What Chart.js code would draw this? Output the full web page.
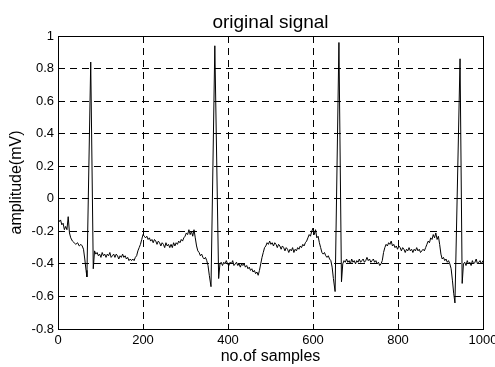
<!DOCTYPE html>
<html>
<head>
<meta charset="utf-8">
<script src="https://cdn.jsdelivr.net/npm/chart.js@4/dist/chart.umd.min.js"></script>
<style>
  html, body { margin: 0; background: #fff; }
</style>
</head>
<body>
<canvas id="chart" width="495" height="367"></canvas>
<script>
// sample number (x) and amplitude in mV (y)
const sampleIdx = [
  0, 3, 6, 9, 12, 15, 18, 21, 24, 27,
  30, 34, 38, 42, 46, 50, 54, 57, 60, 63,
  66, 68, 77, 83, 86, 89, 92, 95, 98, 101,
  104, 107, 110, 113, 116, 119, 122, 125, 128, 131,
  134, 137, 140, 143, 146, 149, 152, 155, 158, 161,
  164, 167, 170, 173, 176, 179, 182, 185, 188, 191,
  194, 197, 200, 203, 206, 209, 212, 215, 218, 221,
  224, 227, 230, 233, 236, 239, 242, 245, 248, 251,
  254, 257, 260, 263, 266, 269, 272, 275, 278, 281,
  284, 287, 290, 293, 296, 299, 302, 305, 308, 311,
  314, 317, 320, 323, 326, 329, 332, 335, 338, 341,
  344, 347, 350, 353, 356, 360, 369, 378, 381, 384,
  387, 390, 393, 396, 399, 402, 405, 408, 411, 414,
  417, 420, 423, 426, 429, 432, 435, 438, 441, 444,
  447, 450, 453, 456, 459, 462, 465, 468, 471, 474,
  477, 480, 483, 486, 489, 492, 495, 498, 501, 504,
  507, 510, 513, 516, 519, 522, 525, 528, 531, 534,
  537, 540, 543, 546, 549, 552, 555, 558, 561, 564,
  567, 570, 573, 576, 579, 582, 585, 588, 591, 594,
  597, 600, 603, 606, 609, 612, 615, 618, 621, 624,
  627, 630, 633, 636, 639, 642, 645, 648, 652, 661,
  667, 670, 673, 676, 679, 682, 685, 688, 691, 694,
  697, 700, 703, 706, 709, 712, 715, 718, 721, 724,
  727, 730, 733, 736, 739, 742, 745, 748, 751, 754,
  757, 760, 763, 766, 769, 772, 775, 778, 781, 784,
  787, 790, 793, 796, 799, 802, 805, 808, 811, 814,
  817, 820, 823, 826, 829, 832, 835, 838, 841, 844,
  847, 850, 853, 856, 859, 862, 865, 868, 871, 874,
  877, 880, 883, 886, 889, 892, 895, 898, 901, 904,
  907, 910, 913, 916, 919, 922, 925, 928, 931, 934,
  946, 951, 954, 957, 960, 963, 966, 969, 972, 975,
  978, 981, 984, 987, 990, 993, 996, 1000
];

const amplitudeMv = [
  -0.12, -0.14, -0.13, -0.16, -0.15, -0.19, -0.17, -0.19, -0.11, -0.21,
  -0.24, -0.26, -0.27, -0.28, -0.27, -0.29, -0.28, -0.29, -0.31, -0.37,
  -0.44, -0.48, 0.84, -0.43, -0.32, -0.34, -0.33, -0.35, -0.34, -0.36,
  -0.33, -0.35, -0.34, -0.36, -0.34, -0.35, -0.33, -0.36, -0.35, -0.34,
  -0.36, -0.34, -0.35, -0.37, -0.35, -0.36, -0.34, -0.36, -0.35, -0.37,
  -0.36, -0.38, -0.37, -0.38, -0.37, -0.38, -0.36, -0.35, -0.32, -0.30,
  -0.28, -0.25, -0.22, -0.23, -0.24, -0.23, -0.25, -0.24, -0.26, -0.25,
  -0.27, -0.25, -0.26, -0.28, -0.26, -0.27, -0.29, -0.27, -0.28, -0.30,
  -0.27, -0.29, -0.28, -0.30, -0.28, -0.30, -0.27, -0.29, -0.27, -0.28,
  -0.26, -0.27, -0.25, -0.26, -0.24, -0.23, -0.21, -0.22, -0.19, -0.22,
  -0.20, -0.23, -0.19, -0.24, -0.29, -0.32, -0.33, -0.35, -0.34, -0.36,
  -0.37, -0.36, -0.38, -0.41, -0.47, -0.54, 0.94, -0.49, -0.40, -0.39,
  -0.41, -0.39, -0.40, -0.38, -0.40, -0.41, -0.39, -0.40, -0.38, -0.41,
  -0.40, -0.39, -0.41, -0.40, -0.42, -0.40, -0.41, -0.40, -0.42, -0.41,
  -0.43, -0.42, -0.44, -0.43, -0.45, -0.44, -0.46, -0.45, -0.47, -0.44,
  -0.40, -0.36, -0.33, -0.30, -0.29, -0.27, -0.28, -0.26, -0.28, -0.27,
  -0.29, -0.27, -0.28, -0.30, -0.28, -0.29, -0.31, -0.29, -0.30, -0.32,
  -0.30, -0.31, -0.33, -0.31, -0.32, -0.30, -0.33, -0.31, -0.32, -0.30,
  -0.31, -0.29, -0.30, -0.28, -0.29, -0.27, -0.26, -0.24, -0.22, -0.23,
  -0.20, -0.18, -0.22, -0.19, -0.24, -0.23, -0.27, -0.30, -0.33, -0.34,
  -0.33, -0.35, -0.36, -0.35, -0.37, -0.38, -0.42, -0.49, -0.57, 0.96,
  -0.51, -0.40, -0.38, -0.39, -0.37, -0.39, -0.38, -0.40, -0.37, -0.39,
  -0.38, -0.40, -0.38, -0.39, -0.37, -0.39, -0.38, -0.37, -0.39, -0.38,
  -0.36, -0.38, -0.37, -0.39, -0.38, -0.37, -0.39, -0.38, -0.40, -0.39,
  -0.41, -0.40, -0.38, -0.33, -0.30, -0.28, -0.29, -0.27, -0.28, -0.26,
  -0.29, -0.28, -0.30, -0.29, -0.31, -0.29, -0.30, -0.32, -0.30, -0.31,
  -0.33, -0.31, -0.32, -0.30, -0.32, -0.31, -0.33, -0.31, -0.32, -0.30,
  -0.32, -0.31, -0.33, -0.32, -0.31, -0.32, -0.30, -0.28, -0.26, -0.27,
  -0.24, -0.25, -0.22, -0.24, -0.21, -0.25, -0.23, -0.28, -0.34, -0.37,
  -0.36, -0.38, -0.37, -0.39, -0.38, -0.40, -0.43, -0.50, -0.58, -0.64,
  0.86, -0.52, -0.40, -0.39, -0.41, -0.38, -0.40, -0.39, -0.41, -0.38,
  -0.40, -0.39, -0.37, -0.40, -0.39, -0.38, -0.40, -0.38
];

const xTicks = [0, 200, 400, 600, 800, 1000];
const yTicks = [-0.8, -0.6, -0.4, -0.2, 0, 0.2, 0.4, 0.6, 0.8, 1];

const FONT = '"Liberation Sans", Arial, Helvetica, sans-serif';

// solid box around the plot area, like the MATLAB axes
const frameBox = {
  id: 'frameBox',
  afterDraw(chart) {
    const { ctx, chartArea: a } = chart;
    ctx.save();
    ctx.strokeStyle = '#000';
    ctx.lineWidth = 1;
    ctx.strokeRect(Math.round(a.left) + 0.5, Math.round(a.top) + 0.5,
      Math.round(a.right - a.left), Math.round(a.bottom - a.top));
    ctx.restore();
  }
};

new Chart(document.getElementById('chart'), {
  type: 'line',
  data: {
    datasets: [{
      label: 'original signal',
      data: sampleIdx.map((x, i) => ({ x, y: amplitudeMv[i] })),
      xAxisID: 'x',
      yAxisID: 'y',
      borderColor: '#000',
      borderWidth: 1,
      pointRadius: 0,
      tension: 0,
      fill: false
    }]
  },
  options: {
    responsive: false,
    animation: false,
    devicePixelRatio: 1,
    layout: { padding: { top: 0, right: 12, bottom: 0, left: 0 } },
    plugins: {
      legend: { display: false },
      tooltip: { enabled: false }
    },
    scales: {
      // top axis only carries the title, so it is centred over the plot box
      top: {
        type: 'linear',
        position: 'top',
        min: 0,
        max: 1000,
        afterFit: s => { s.height = 36; s.paddingLeft = 0; s.paddingRight = 0; },
        ticks: { display: false },
        grid: { display: false },
        border: { display: false },
        title: {
          display: true,
          text: 'original signal',
          color: '#000',
          font: { family: FONT, size: 19 },
          padding: { top: 11, bottom: 0 }
        }
      },
      x: {
        type: 'linear',
        min: 0,
        max: 1000,
        afterBuildTicks: s => { s.ticks = xTicks.map(v => ({ value: v })); },
        afterFit: s => { s.height = 38; s.paddingLeft = 0; s.paddingRight = 0; },
        ticks: {
          color: '#000',
          padding: 4,
          maxRotation: 0,
          font: { family: FONT, size: 13 },
          callback: v => String(v)
        },
        grid: { color: '#000', lineWidth: 1, drawTicks: false },
        border: { display: false, dash: [7, 5] },
        title: {
          display: true,
          text: 'no.of samples',
          color: '#000',
          font: { family: FONT, size: 16 },
          padding: { top: 0, bottom: 1 }
        }
      },
      y: {
        type: 'linear',
        min: -0.8,
        max: 1,
        afterBuildTicks: s => { s.ticks = yTicks.map(v => ({ value: v })); },
        afterFit: s => { s.width = 58; s.paddingTop = 0; s.paddingBottom = 0; },
        ticks: {
          color: '#000',
          padding: 4,
          font: { family: FONT, size: 13 },
          callback: v => String(+v.toFixed(1))
        },
        grid: { color: '#000', lineWidth: 1, drawTicks: false },
        border: { display: false, dash: [7, 5] },
        title: {
          display: true,
          text: 'amplitude(mV)',
          color: '#000',
          font: { family: FONT, size: 16 },
          padding: { top: 7, bottom: 0 }
        }
      }
    }
  },
  plugins: [frameBox]
});
</script>
</body>
</html>
